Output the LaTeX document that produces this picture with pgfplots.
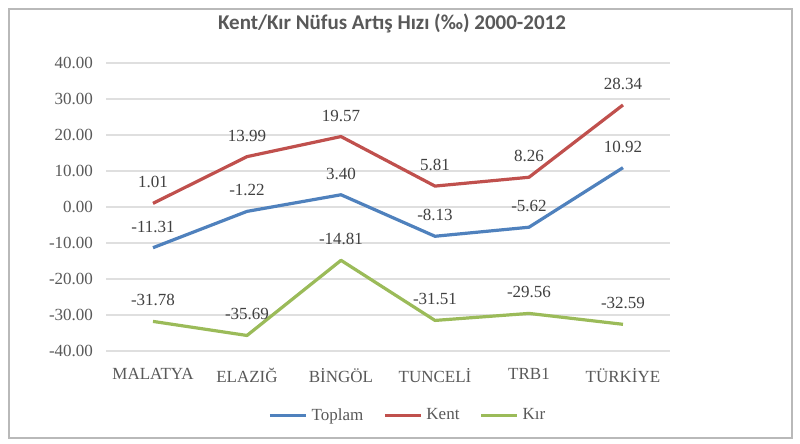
\documentclass[border=0pt]{standalone}
\usepackage{pgfplots}
\pgfplotsset{compat=1.18}
\usepackage{fontspec}
\setmainfont{Liberation Serif}
\newfontfamily\titlefont{Carlito}
\definecolor{cblue}{HTML}{4F81BD}
\definecolor{cred}{HTML}{C0504D}
\definecolor{cgreen}{HTML}{9BBB59}
\definecolor{tgray}{HTML}{595959}
\definecolor{lgray}{HTML}{404040}
\begin{document}
\begin{tikzpicture}
\useasboundingbox (0,0) rectangle (400pt,222pt);
\fill[white] (0,0) rectangle (400pt,222pt);
\draw[gray!55, line width=1.2pt] (4.5pt,3pt) rectangle (396pt,217.5pt);
\node[font=\titlefont\bfseries\fontsize{10.5}{12}\selectfont, text=tgray] at (196pt,210.5pt) {Kent/Kır Nüfus Artış Hızı (‰) 2000-2012};
\begin{axis}[
  at={(53pt,46.5pt)}, anchor=south west,
  width=282pt, height=144pt, scale only axis,
  xmin=-0.5, xmax=5.5, ymin=-40, ymax=40,
  ytick={-40,-30,...,40},
  xtick={0,...,5},
  xticklabels={MALATYA,ELAZIĞ,BİNGÖL,TUNCELİ,TRB1,TÜRKİYE},
  axis line style={draw=none},
  major tick length=0pt,
  ymajorgrids, grid style={gray!25, line width=0.6pt},
  tick label style={font=\fontsize{8.5}{10}\selectfont, text=tgray},
  yticklabel style={/pgf/number format/fixed, /pgf/number format/fixed zerofill, /pgf/number format/precision=2, /pgf/number format/assume math mode=true, xshift=-3pt},
  xticklabel style={yshift=-5pt},
  point meta=explicit symbolic,
  nodes near coords,
  every node near coord/.append style={font=\fontsize{8.5}{10}\selectfont, text=lgray, anchor=south, yshift=3.5pt},
  legend style={at={(0.537,-0.17)}, anchor=north, draw=none, fill=none, legend columns=3,
    font=\fontsize{8.5}{10}\selectfont, text=tgray, /tikz/every even column/.append style={column sep=8pt}},
  legend image code/.code={\draw[#1] (0pt,0pt) -- (18pt,0pt);},
  every axis plot/.append style={line width=1.6pt, line join=round, mark=none},
]
\addplot[cblue] coordinates {(0,-11.31)[-11.31] (1,-1.22)[-1.22] (2,3.40)[3.40] (3,-8.13)[-8.13] (4,-5.62)[-5.62] (5,10.92)[10.92]};
\addlegendentry{Toplam}
\addplot[cred] coordinates {(0,1.01)[1.01] (1,13.99)[13.99] (2,19.57)[19.57] (3,5.81)[5.81] (4,8.26)[8.26] (5,28.34)[28.34]};
\addlegendentry{Kent}
\addplot[cgreen] coordinates {(0,-31.78)[-31.78] (1,-35.69)[-35.69] (2,-14.81)[-14.81] (3,-31.51)[-31.51] (4,-29.56)[-29.56] (5,-32.59)[-32.59]};
\addlegendentry{Kır}
\end{axis}
\end{tikzpicture}
\end{document}
